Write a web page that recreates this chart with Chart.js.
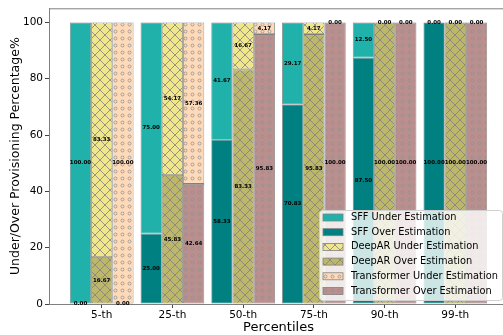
<!DOCTYPE html>
<html>
<head>
<meta charset="utf-8">
<script src="https://cdn.jsdelivr.net/npm/chart.js@4.4.0/dist/chart.umd.min.js"></script>
<style>
html, body { margin: 0; padding: 0; overflow: hidden; background: #fff; }
</style>
</head>
<body>
<canvas id="chart" width="512" height="335"></canvas>
<script>
/* dane */
var percentiles = ['5-th', '25-th', '50-th', '75-th', '90-th', '99-th'];
var sffUnder = [100.00, 75.00, 41.67, 29.17, 12.50, 0.00];
var sffOver = [0.00, 25.00, 58.33, 70.83, 87.50, 100.00];
var deeparUnder = [83.33, 54.17, 16.67, 4.17, 0.00, 0.00];
var deeparOver = [16.67, 45.83, 83.33, 95.83, 100.00, 100.00];
var transUnder = [100.00, 57.36, 4.17, 0.00, 0.00, 0.00];
var transOver = [0.00, 42.64, 95.83, 100.00, 100.00, 100.00];
var yTicks = [0, 20, 40, 60, 80, 100];

var FONT = '"DejaVu Sans", sans-serif';
var EDGE = '#808080';

/* wzory kreskowania */
function hatchX(bg) {
    var c = document.createElement('canvas');
    c.width = 10; c.height = 10;
    var g = c.getContext('2d');
    g.fillStyle = bg;
    g.fillRect(0, 0, 10, 10);
    g.strokeStyle = EDGE;
    g.lineWidth = 0.8;
    g.beginPath();
    g.moveTo(-1, -1); g.lineTo(11, 11);
    g.moveTo(11, -1); g.lineTo(-1, 11);
    g.stroke();
    return g.createPattern(c, 'repeat');
}

function hatchO(bg) {
    var c = document.createElement('canvas');
    c.width = 7; c.height = 7;
    var g = c.getContext('2d');
    g.fillStyle = bg;
    g.fillRect(0, 0, 7, 7);
    g.strokeStyle = '#909090';
    g.lineWidth = 0.8;
    g.beginPath();
    g.arc(3.5, 3.5, 1.5, 0, Math.PI * 2);
    g.stroke();
    return g.createPattern(c, 'repeat');
}

function pts(arr) {
    return arr.map(function (v, i) { return { x: i, y: v }; });
}

function ds(label, values, stack, color) {
    return {
        label: label,
        data: pts(values),
        stack: stack,
        backgroundColor: color,
        borderColor: EDGE,
        borderWidth: 0.8,
        borderSkipped: false
    };
}

/* etykiety wartości */
var valueLabels = {
    id: 'valueLabels',
    afterDatasetsDraw: function (chart) {
        var ctx = chart.ctx;
        var a = chart.chartArea;
        ctx.save();
        ctx.strokeStyle = EDGE;
        ctx.lineWidth = 1;
        ctx.strokeRect(a.left + 0.5, a.top + 0.5, a.right - a.left, a.bottom - a.top);
        ctx.font = 'bold 5.5px ' + FONT;
        ctx.fillStyle = '#000';
        ctx.textAlign = 'center';
        ctx.textBaseline = 'middle';
        chart.data.datasets.forEach(function (d, i) {
            chart.getDatasetMeta(i).data.forEach(function (bar, j) {
                var p = bar.getProps(['x', 'y', 'base'], true);
                ctx.fillText(d.data[j].y.toFixed(2), p.x, (p.y + p.base) / 2);
            });
        });
        ctx.restore();
    }
};

/* legenda w obszarze wykresu */
var boxLegend = {
    id: 'boxLegend',
    afterDraw: function (chart) {
        var ctx = chart.ctx;
        var order = [1, 0, 3, 2, 5, 4];
        var right = chart.chartArea.right - 6;
        var bottom = chart.chartArea.bottom - 4;
        var w = 183, h = 90;
        var x0 = right - w, y0 = bottom - h;
        ctx.save();
        ctx.beginPath();
        ctx.roundRect(x0 + 0.5, y0 + 0.5, w, h, 3);
        ctx.fillStyle = 'rgba(255,255,255,0.8)';
        ctx.fill();
        ctx.strokeStyle = '#d0d0d0';
        ctx.lineWidth = 1;
        ctx.stroke();
        ctx.font = '9.8px ' + FONT;
        ctx.textBaseline = 'middle';
        ctx.textAlign = 'left';
        order.forEach(function (idx, k) {
            var d = chart.data.datasets[idx];
            var cy = y0 + 7.5 + k * 14.7;
            ctx.fillStyle = d.backgroundColor;
            ctx.fillRect(x0 + 4, cy - 3.5, 20, 7);
            ctx.strokeStyle = EDGE;
            ctx.lineWidth = 0.8;
            ctx.strokeRect(x0 + 4, cy - 3.5, 20, 7);
            ctx.fillStyle = '#000';
            ctx.fillText(d.label, x0 + 32, cy);
        });
        ctx.restore();
    }
};

var ctxChart = document.getElementById('chart');

var chartEstimation = new Chart(ctxChart, {
    type: 'bar',
    data: {
        datasets: [
            ds('SFF Over Estimation', sffOver, 'SFF', '#008080'),
            ds('SFF Under Estimation', sffUnder, 'SFF', '#20B2AA'),
            ds('DeepAR Over Estimation', deeparOver, 'DeepAR', hatchX('#BDB76B')),
            ds('DeepAR Under Estimation', deeparUnder, 'DeepAR', hatchX('#F0E68C')),
            ds('Transformer Over Estimation', transOver, 'Transformer', hatchO('#BC8F8F')),
            ds('Transformer Under Estimation', transUnder, 'Transformer', hatchO('#FFDAB9'))
        ]
    },
    options: {
        responsive: false,
        maintainAspectRatio: false,
        animation: false,
        devicePixelRatio: 1,
        categoryPercentage: 0.9,
        barPercentage: 1.0,
        layout: { padding: { top: 7, right: 4, left: 0, bottom: 0 } },
        plugins: {
            legend: { display: false },
            tooltip: { enabled: false }
        },
        scales: {
            x: {
                type: 'linear',
                stacked: true,
                offset: false,
                min: -0.745,
                max: 5.745,
                afterBuildTicks: function (s) {
                    s.ticks = percentiles.map(function (p, i) { return { value: i }; });
                },
                afterFit: function (s) { s.height = 31; },
                ticks: {
                    autoSkip: false,
                    maxRotation: 0,
                    padding: 1,
                    color: '#000',
                    font: { family: FONT, size: 10.5 },
                    callback: function (v) { return percentiles[v]; }
                },
                grid: { offset: false, drawOnChartArea: false, drawTicks: true, tickLength: 4, color: '#444' },
                border: { color: EDGE },
                title: {
                    display: true,
                    text: 'Percentiles',
                    color: '#000',
                    font: { family: FONT, size: 13 },
                    padding: { top: 0, bottom: 0 }
                }
            },
            y: {
                stacked: true,
                min: 0,
                max: 105,
                afterBuildTicks: function (s) {
                    s.ticks = yTicks.map(function (v) { return { value: v }; });
                },
                afterFit: function (s) { s.width = 49; },
                ticks: {
                    padding: 2,
                    color: '#000',
                    font: { family: FONT, size: 10.5 }
                },
                grid: { drawOnChartArea: false, drawTicks: true, tickLength: 4, color: '#444' },
                border: { color: EDGE },
                title: {
                    display: true,
                    text: 'Under/Over Provisioning Percentage%',
                    color: '#000',
                    font: { family: FONT, size: 12.5 },
                    padding: { top: 8, bottom: 0 }
                }
            }
        }
    },
    plugins: [valueLabels, boxLegend]
});
</script>
</body>
</html>
